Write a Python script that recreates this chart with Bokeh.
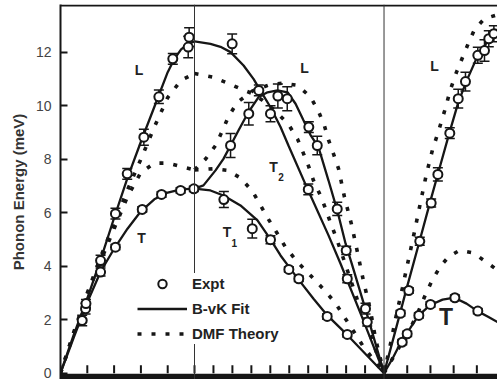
from bokeh.plotting import figure
from bokeh.models import Span, Label, Legend, LegendItem, FixedTicker
from bokeh.embed import file_html
from bokeh.resources import INLINE

# ---------------- data (q in 2pi/a along path G-X-K-G-L, energy in meV) -------------
# Gamma -> X
seg1_L_fit_q = [0, 0.05, 0.1, 0.2, 0.3, 0.4, 0.5, 0.6, 0.7, 0.8, 0.85, 0.9, 0.95, 1.0]
seg1_L_fit_E = [0, 0.73, 1.45, 2.8, 4.25, 5.8, 7.3, 8.65, 9.95, 11.25, 11.75, 12.1, 12.3, 12.4]
seg1_T_fit_q = [0, 0.1, 0.2, 0.3, 0.4, 0.5, 0.6, 0.7, 0.8, 0.9, 1.0]
seg1_T_fit_E = [0, 1.35, 2.65, 3.8, 4.65, 5.4, 6.05, 6.5, 6.75, 6.87, 6.9]
seg1_L_dmf_q = [0, 0.1, 0.2, 0.3, 0.4, 0.5, 0.6, 0.7, 0.8, 0.9, 1.0]
seg1_L_dmf_E = [0, 1.55, 3.0, 4.35, 5.6, 6.85, 8.0, 9.2, 10.3, 10.95, 11.2]
seg1_T_dmf_q = [0, 0.1, 0.2, 0.3, 0.4, 0.5, 0.6, 0.7, 0.8, 0.9, 1.0]
seg1_T_dmf_E = [0, 1.5, 2.95, 4.2, 5.4, 6.6, 7.5, 7.85, 7.85, 7.72, 7.6]

# X -> K -> Gamma  [xi xi 0]
seg2_L_fit_q = [1.0, 1.119, 1.194, 1.269, 1.366, 1.440, 1.507, 1.567, 1.642, 1.701, 1.843, 2.0, 2.090, 2.254, 2.414]
seg2_L_fit_E = [12.4, 12.31, 12.2, 12.0, 11.5, 11.0, 10.44, 9.94, 9.2, 8.51, 6.89, 5.15, 4.09, 2.05, 0]
seg2_T2_fit_q = [1.0, 1.067, 1.157, 1.216, 1.269, 1.328, 1.403, 1.478, 1.545, 1.619, 1.694, 1.754, 1.813, 1.866, 1.925, 2.0, 2.067, 2.127, 2.179, 2.299, 2.414]
seg2_T2_fit_E = [6.9, 7.02, 7.58, 8.01, 8.51, 9.07, 9.76, 10.32, 10.5, 10.57, 10.5, 10.07, 9.45, 8.9, 8.45, 7.2, 6.05, 4.85, 4.0, 2.0, 0]
seg2_T1_fit_q = [1.0, 1.119, 1.216, 1.343, 1.470, 1.567, 1.642, 1.716, 1.784, 1.888, 1.993, 2.142, 2.276, 2.414]
seg2_T1_fit_E = [6.9, 6.83, 6.64, 6.27, 5.71, 5.0, 4.4, 3.9, 3.45, 2.78, 2.15, 1.42, 0.72, 0]
seg2_L_dmf_q = [1.0, 1.134, 1.239, 1.343, 1.433, 1.507, 1.604, 1.701, 1.769, 1.806, 1.851, 1.888, 1.940, 1.978, 2.015, 2.052, 2.090, 2.127, 2.164, 2.201, 2.231, 2.328, 2.414]
seg2_L_dmf_E = [11.2, 11.07, 10.86, 10.63, 10.45, 10.2, 9.8, 9.3, 8.75, 8.3, 7.74, 7.2, 6.64, 6.15, 5.62, 5.14, 4.6, 4.05, 3.5, 2.97, 2.47, 1.2, 0]
seg2_T2_dmf_q = [1.0, 1.082, 1.157, 1.209, 1.254, 1.321, 1.433, 1.560, 1.657, 1.769, 1.866, 1.925, 1.970, 2.0, 2.037, 2.075, 2.119, 2.172, 2.216, 2.261, 2.313, 2.351, 2.414]
seg2_T2_dmf_E = [7.6, 8.0, 8.51, 9.07, 9.6, 10.13, 10.55, 10.78, 10.84, 10.76, 10.32, 9.79, 9.24, 8.72, 8.2, 7.64, 6.58, 5.55, 4.52, 3.44, 2.34, 1.29, 0]
seg2_T1_dmf_q = [1.0, 1.142, 1.246, 1.343, 1.433, 1.493, 1.552, 1.619, 1.679, 1.769, 1.866, 1.963, 2.052, 2.119, 2.187, 2.254, 2.336, 2.414]
seg2_T1_dmf_E = [7.6, 7.64, 7.58, 7.3, 6.79, 6.27, 5.75, 5.21, 4.71, 4.15, 3.65, 3.14, 2.62, 2.09, 1.57, 1.04, 0.5, 0]

# Gamma -> L  [xi xi xi]
seg3_L_fit_q = [2.414, 2.500, 2.582, 2.672, 2.761, 2.836, 2.903, 2.970, 3.037, 3.112, 3.187, 3.261]
seg3_L_fit_E = [0, 1.6, 3.15, 4.8, 6.45, 7.8, 9.0, 10.15, 11.0, 11.85, 12.4, 12.85]
seg3_T_fit_q = [2.414, 2.478, 2.545, 2.612, 2.672, 2.761, 2.851, 2.940, 3.030, 3.112, 3.194, 3.261]
seg3_T_fit_E = [0, 0.55, 1.2, 1.7, 2.16, 2.55, 2.75, 2.82, 2.6, 2.32, 2.1, 1.91]
seg3_L_dmf_q = [2.414, 2.463, 2.507, 2.552, 2.597, 2.642, 2.687, 2.731, 2.776, 2.821, 2.866, 2.910, 2.955, 3.0, 3.045, 3.090, 3.164, 3.261]
seg3_L_dmf_E = [0, 1.1, 2.2, 3.2, 4.25, 5.3, 6.4, 7.45, 8.35, 9.05, 9.8, 10.6, 11.25, 11.8, 12.35, 12.85, 13.25, 13.4]
seg3_T_dmf_q = [2.414, 2.478, 2.537, 2.597, 2.657, 2.716, 2.776, 2.836, 2.896, 2.978, 3.082, 3.179, 3.261]
seg3_T_dmf_E = [0, 0.55, 1.05, 1.55, 2.15, 2.85, 3.5, 4.0, 4.35, 4.59, 4.49, 4.15, 3.85]

# Experiment (q, E, error)
expt_q = [0.162, 0.187, 0.19, 0.299, 0.299, 0.410, 0.410, 0.498, 0.610, 0.622, 0.734, 0.754, 0.838, 0.896, 0.953, 0.960, 0.995,
          1.219, 1.269, 1.281, 1.405, 1.431, 1.480, 1.567, 1.567, 1.622, 1.692, 1.704, 1.778, 1.849, 1.853, 1.916, 1.990,
          2.065, 2.132, 2.140, 2.140, 2.276, 2.289,
          2.537, 2.599, 2.681, 2.766, 2.816, 2.905, 2.968, 3.022, 3.114, 3.164, 3.196, 3.234,
          2.550, 2.587, 2.674, 2.761, 2.943, 3.114]
expt_E = [1.97, 2.41, 2.6, 4.21, 3.78, 5.96, 4.71, 7.45, 6.12, 8.82, 10.33, 6.68, 11.75, 6.83, 12.19, 12.56, 6.89,
          6.49, 8.51, 12.31, 9.70, 5.40, 10.57, 9.70, 4.99, 10.36, 10.26, 3.88, 3.53, 6.87, 9.20, 8.51, 2.12,
          6.14, 4.59, 1.45, 3.53, 2.41, 1.91,
          2.24, 3.09, 4.93, 6.36, 7.43, 8.97, 10.26, 10.90, 11.88, 12.06, 12.50, 12.69,
          1.16, 1.47, 2.16, 2.57, 2.82, 2.32]
expt_err = [0.2, 0.2, 0.15, 0.2, 0.15, 0.2, 0.1, 0.2, 0.1, 0.3, 0.25, 0.1, 0.2, 0.1, 0.4, 0.35, 0.1,
            0.3, 0.45, 0.37, 0.42, 0.35, 0.2, 0.3, 0.15, 0.45, 0.45, 0.1, 0.1, 0.2, 0.2, 0.35, 0.1,
            0.25, 0.15, 0.1, 0.15, 0.2, 0.15,
            0.1, 0.1, 0.15, 0.15, 0.25, 0.2, 0.35, 0.35, 0.3, 0.4, 0.3, 0.3,
            0.1, 0.1, 0.1, 0.1, 0.1, 0.1]

y_ticks = [0, 2, 4, 6, 8, 10, 12]
x_ticks = [0, 0.2, 0.4, 0.6, 0.8, 1.0,
           1.1414, 1.2828, 1.4243, 1.5657, 1.7071, 1.8485, 1.9899, 2.1314, 2.2728, 2.4142,
           2.5874, 2.7606, 2.9338, 3.1070]

# ---------------- figure -------------
FONT = "Liberation Sans"
INK = "#161616"
Y0, Y1 = -0.236, 13.78

p = figure(width=497, height=379, output_backend="svg", toolbar_location=None,
           x_range=(0, 3.261), y_range=(Y0, Y1),
           min_border_left=60, min_border_right=0, min_border_top=4, min_border_bottom=0)
p.outline_line_color = None
p.xgrid.visible = False
p.ygrid.visible = False
p.background_fill_color = "white"
p.border_fill_color = "white"

p.yaxis.ticker = FixedTicker(ticks=y_ticks)
p.yaxis.major_tick_in = 7
p.yaxis.major_tick_out = 0
p.yaxis.minor_tick_line_color = None
p.yaxis.axis_line_width = 2
p.yaxis.major_tick_line_width = 2
p.yaxis.axis_line_color = INK
p.yaxis.major_tick_line_color = INK
p.yaxis.major_label_standoff = 9
p.yaxis.major_label_text_font = FONT
p.yaxis.major_label_text_font_size = "14px"
p.yaxis.major_label_text_color = "#444444"
p.yaxis.axis_label = "Phonon Energy (meV)"
p.yaxis.axis_label_text_font = FONT
p.yaxis.axis_label_text_font_size = "15px"
p.yaxis.axis_label_text_font_style = "bold"
p.yaxis.axis_label_text_color = "#333333"
p.yaxis.axis_label_standoff = 6

# bottom axis: thick base line with inward ticks, no labels
p.xaxis.visible = False
p.add_layout(Span(location=-0.13, dimension="width", line_color=INK, line_width=6))
p.segment(x0=x_ticks, y0=[0.0] * len(x_ticks), x1=x_ticks, y1=[0.3] * len(x_ticks),
          line_color=INK, line_width=2)

# top border and symmetry-point lines
p.add_layout(Span(location=Y1 - 0.04, dimension="width", line_color=INK, line_width=2))
p.add_layout(Span(location=1.0, dimension="height", line_color="#333333", line_width=1))
p.add_layout(Span(location=2.4142, dimension="height", line_color="#333333", line_width=1))

solid = dict(line_color=INK, line_width=2.3)
dotted = dict(line_color=INK, line_width=3.6, line_dash="4 10", line_cap="butt")

dmf_r = None
for q, e in [(seg1_L_dmf_q, seg1_L_dmf_E), (seg1_T_dmf_q, seg1_T_dmf_E),
             (seg2_L_dmf_q, seg2_L_dmf_E), (seg2_T2_dmf_q, seg2_T2_dmf_E), (seg2_T1_dmf_q, seg2_T1_dmf_E),
             (seg3_L_dmf_q, seg3_L_dmf_E), (seg3_T_dmf_q, seg3_T_dmf_E)]:
    r = p.line(q, e, **dotted)
    dmf_r = dmf_r or r

fit_r = None
for q, e in [(seg1_L_fit_q, seg1_L_fit_E), (seg1_T_fit_q, seg1_T_fit_E),
             (seg2_L_fit_q, seg2_L_fit_E), (seg2_T2_fit_q, seg2_T2_fit_E), (seg2_T1_fit_q, seg2_T1_fit_E),
             (seg3_L_fit_q, seg3_L_fit_E), (seg3_T_fit_q, seg3_T_fit_E)]:
    r = p.line(q, e, **solid)
    fit_r = fit_r or r

lo = [e - d for e, d in zip(expt_E, expt_err)]
hi = [e + d for e, d in zip(expt_E, expt_err)]
p.segment(x0=expt_q, y0=lo, x1=expt_q, y1=hi, line_color=INK, line_width=1.5)
p.scatter(x=expt_q + expt_q, y=lo + hi, marker="dash", size=10, line_color=INK, line_width=1.5)
expt_r = p.scatter(x=expt_q, y=expt_E, marker="circle", size=9, fill_color="white",
                   line_color=INK, line_width=2)

# branch labels
def lab(x, y, t, size="14px"):
    p.add_layout(Label(x=x, y=y, text=t, text_font=FONT, text_font_size=size, text_font_style="bold",
                       text_color="#222222", text_align="center", text_baseline="middle"))

lab(0.586, 11.32, "L")
lab(0.604, 5.05, "T")
lab(1.243, 5.26, "T")
lab(1.297, 4.88, "1", "10px")
lab(1.590, 7.69, "T")
lab(1.646, 7.33, "2", "10px")
lab(1.821, 11.41, "L")
lab(2.791, 11.47, "L")
lab(2.877, 2.10, "T", "23px")

legend = Legend(items=[LegendItem(label="Expt", renderers=[expt_r]),
                       LegendItem(label="B-vK Fit", renderers=[fit_r]),
                       LegendItem(label="DMF Theory", renderers=[dmf_r])],
                location=(77, 35), glyph_width=50, glyph_height=21, spacing=4, padding=8, margin=0,
                label_standoff=5, label_text_font=FONT, label_text_font_style="bold",
                label_text_font_size="15px", label_text_color="#222222",
                border_line_color=None, background_fill_color="white", background_fill_alpha=1.0)
p.add_layout(legend)

open("out.html", "w").write(file_html(p, INLINE))
